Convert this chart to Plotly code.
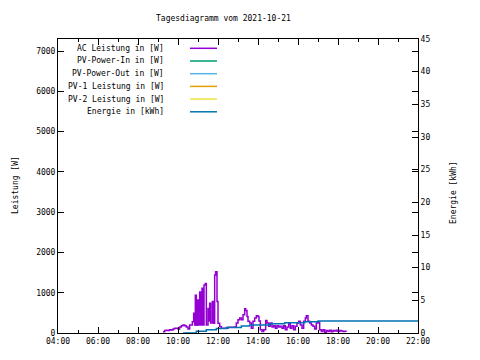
import plotly.graph_objects as go

# ---------------- data ----------------
ac_time = ["09:15", "09:20", "09:25", "09:30", "09:35", "09:40", "09:45", "09:50", "09:55",
           "10:00", "10:05", "10:10", "10:15", "10:20", "10:25", "10:30", "10:35", "10:40",
           "10:43", "10:47", "10:50", "10:52", "10:55", "10:58", "11:02", "11:05", "11:08",
           "11:12", "11:15", "11:18", "11:22", "11:25", "11:30", "11:32", "11:35", "11:38",
           "11:43", "11:47", "11:50", "11:53", "11:57", "12:00", "12:05", "12:10", "12:20",
           "12:30", "12:40", "12:50", "12:55", "13:00", "13:05", "13:10", "13:15", "13:20",
           "13:23", "13:27", "13:30", "13:35", "13:40", "13:45", "13:50", "13:55", "14:00",
           "14:03", "14:07", "14:12", "14:17", "14:23", "14:27", "14:32", "14:37", "14:42",
           "14:47", "14:52", "14:57", "15:02", "15:07", "15:12", "15:17", "15:22", "15:27",
           "15:32", "15:37", "15:42", "15:47", "15:52", "15:57", "16:02", "16:07", "16:12",
           "16:17", "16:22", "16:25", "16:30", "16:35", "16:40", "16:45", "16:50", "16:55",
           "17:00", "17:05", "17:10", "17:15", "17:20", "17:25", "17:30", "17:35", "17:40",
           "17:45", "17:50", "17:55", "18:00", "18:05", "18:10", "18:15", "18:20", "18:25"]
ac_power = [30, 60, 70, 60, 80, 75, 100, 120, 120,
            100, 150, 180, 200, 180, 150, 100, 200, 200,
            280, 490, 200, 940, 190, 820, 200, 1020, 200,
            1110, 200, 1190, 1230, 200, 610, 300, 740, 250,
            780, 240, 1440, 1520, 780, 240, 160, 120, 120,
            145, 140, 150, 250, 330, 370, 330, 455, 600,
            560, 410, 290, 250, 120, 290, 370, 430, 410,
            300, 80, 40, 80, 310, 250, 165, 250, 150,
            180, 120, 180, 150, 165, 120, 180, 80, 150,
            250, 120, 180, 80, 165, 250, 290, 200, 120,
            290, 370, 430, 290, 250, 200, 165, 100, 250,
            270, 80, 40, 80, 15, 60, 40, 70, 30,
            60, 50, 70, 40, 60, 50, 40, 45, 40]

energy_time = ["10:15", "10:55", "11:25", "11:55", "12:25", "13:10", "13:35",
               "14:35", "15:20", "16:20", "17:00", "22:00"]
energy_kwh = [0.0, 0.25, 0.5, 0.7, 0.86, 1.07, 1.22, 1.43, 1.58, 1.73, 1.85, 1.85]

series_names = ["AC Leistung in [W]", "PV-Power-In in [W]", "PV-Power-Out in [W]",
                "PV-1 Leistung in [W]", "PV-2 Leistung in [W]", "Energie in [kWh]"]
series_colors = ["#9400d3", "#009e73", "#56b4e9", "#e69f00", "#f0e442", "#0072b2"]

x_tickvals = [4, 6, 8, 10, 12, 14, 16, 18, 20, 22]
x_ticktext = ["04:00", "06:00", "08:00", "10:00", "12:00", "14:00", "16:00",
              "18:00", "20:00", "22:00"]
y_tickvals = [0, 1000, 2000, 3000, 4000, 5000, 6000, 7000]
y2_tickvals = [0, 5, 10, 15, 20, 25, 30, 35, 40, 45]

title_text = "Tagesdiagramm vom 2021-10-21"
y_title = "Leistung [W]"
y2_title = "Energie [kWh]"


def to_h(s):
    h, m = s.split(":")
    return int(h) + int(m) / 60.0


FONT = "DejaVu Sans Mono"
W, H = 480, 360
OFF = 8  # page body margin offset
L, T = 58, 39           # plot area on screen
PW, PH = 360, 294

fig = go.Figure()
fig.add_trace(go.Scatter(x=[to_h(t) for t in ac_time], y=ac_power, mode="lines",
                         line=dict(color=series_colors[0], width=1.5, shape="hv"),
                         name=series_names[0], showlegend=False))
fig.add_trace(go.Scatter(x=[to_h(t) for t in energy_time], y=energy_kwh, mode="lines",
                         line=dict(color=series_colors[5], width=1.5, shape="hv"),
                         name=series_names[5], yaxis="y2", showlegend=False))

axis_common = dict(showgrid=False, zeroline=False, showline=True, linecolor="black",
                   linewidth=1, ticks="inside", tickcolor="black",
                   tickfont=dict(family=FONT, size=8, color="black"))

fig.update_layout(
    width=W, height=H, autosize=False,
    margin=dict(l=L - OFF, r=W - (L - OFF) - PW, t=T - OFF, b=H - (T - OFF) - PH, pad=0),
    paper_bgcolor="white", plot_bgcolor="white",
    font=dict(family=FONT, size=8, color="black"),
    showlegend=False,
    xaxis=dict(range=[4, 22], tickvals=x_tickvals, ticktext=x_ticktext, ticklen=6,
               mirror="ticks", minor=dict(dtick=1, ticks="inside", ticklen=3, tickcolor="black"),
               **axis_common),
    yaxis=dict(range=[0, 7300], tickvals=y_tickvals, ticklen=6, mirror="ticks",
               **axis_common),
    yaxis2=dict(range=[0, 45], tickvals=y2_tickvals, ticklen=6, overlaying="y",
                side="right", **axis_common),
)


def px(x):
    return (x - L) / PW


def py(y):
    return (T + PH - y) / PH


ann = [
    dict(text=title_text, x=px(223), y=py(18), xref="paper", yref="paper",
         showarrow=False, xanchor="center", yanchor="middle", font=dict(family=FONT, size=8)),
    dict(text=y_title, x=px(15), y=py(185), xref="paper", yref="paper",
         showarrow=False, textangle=-90, xanchor="center", yanchor="middle",
         font=dict(family=FONT, size=8)),
    dict(text=y2_title, x=px(453), y=py(193), xref="paper", yref="paper",
         showarrow=False, textangle=-90, xanchor="center", yanchor="middle",
         font=dict(family=FONT, size=8)),
]
shapes = []
for i, (nm, col) in enumerate(zip(series_names, series_colors)):
    yp = py(48.3 + 12.7 * i)
    ann.append(dict(text=nm, x=px(166), y=yp, xref="paper", yref="paper",
                    showarrow=False, xanchor="right", yanchor="middle",
                    font=dict(family=FONT, size=8)))
    shapes.append(dict(type="line", xref="paper", yref="paper",
                       x0=px(190), x1=px(217), y0=yp, y1=yp,
                       line=dict(color=col, width=1.5)))

fig.update_layout(annotations=ann, shapes=shapes)
fig.write_html("out.html")
